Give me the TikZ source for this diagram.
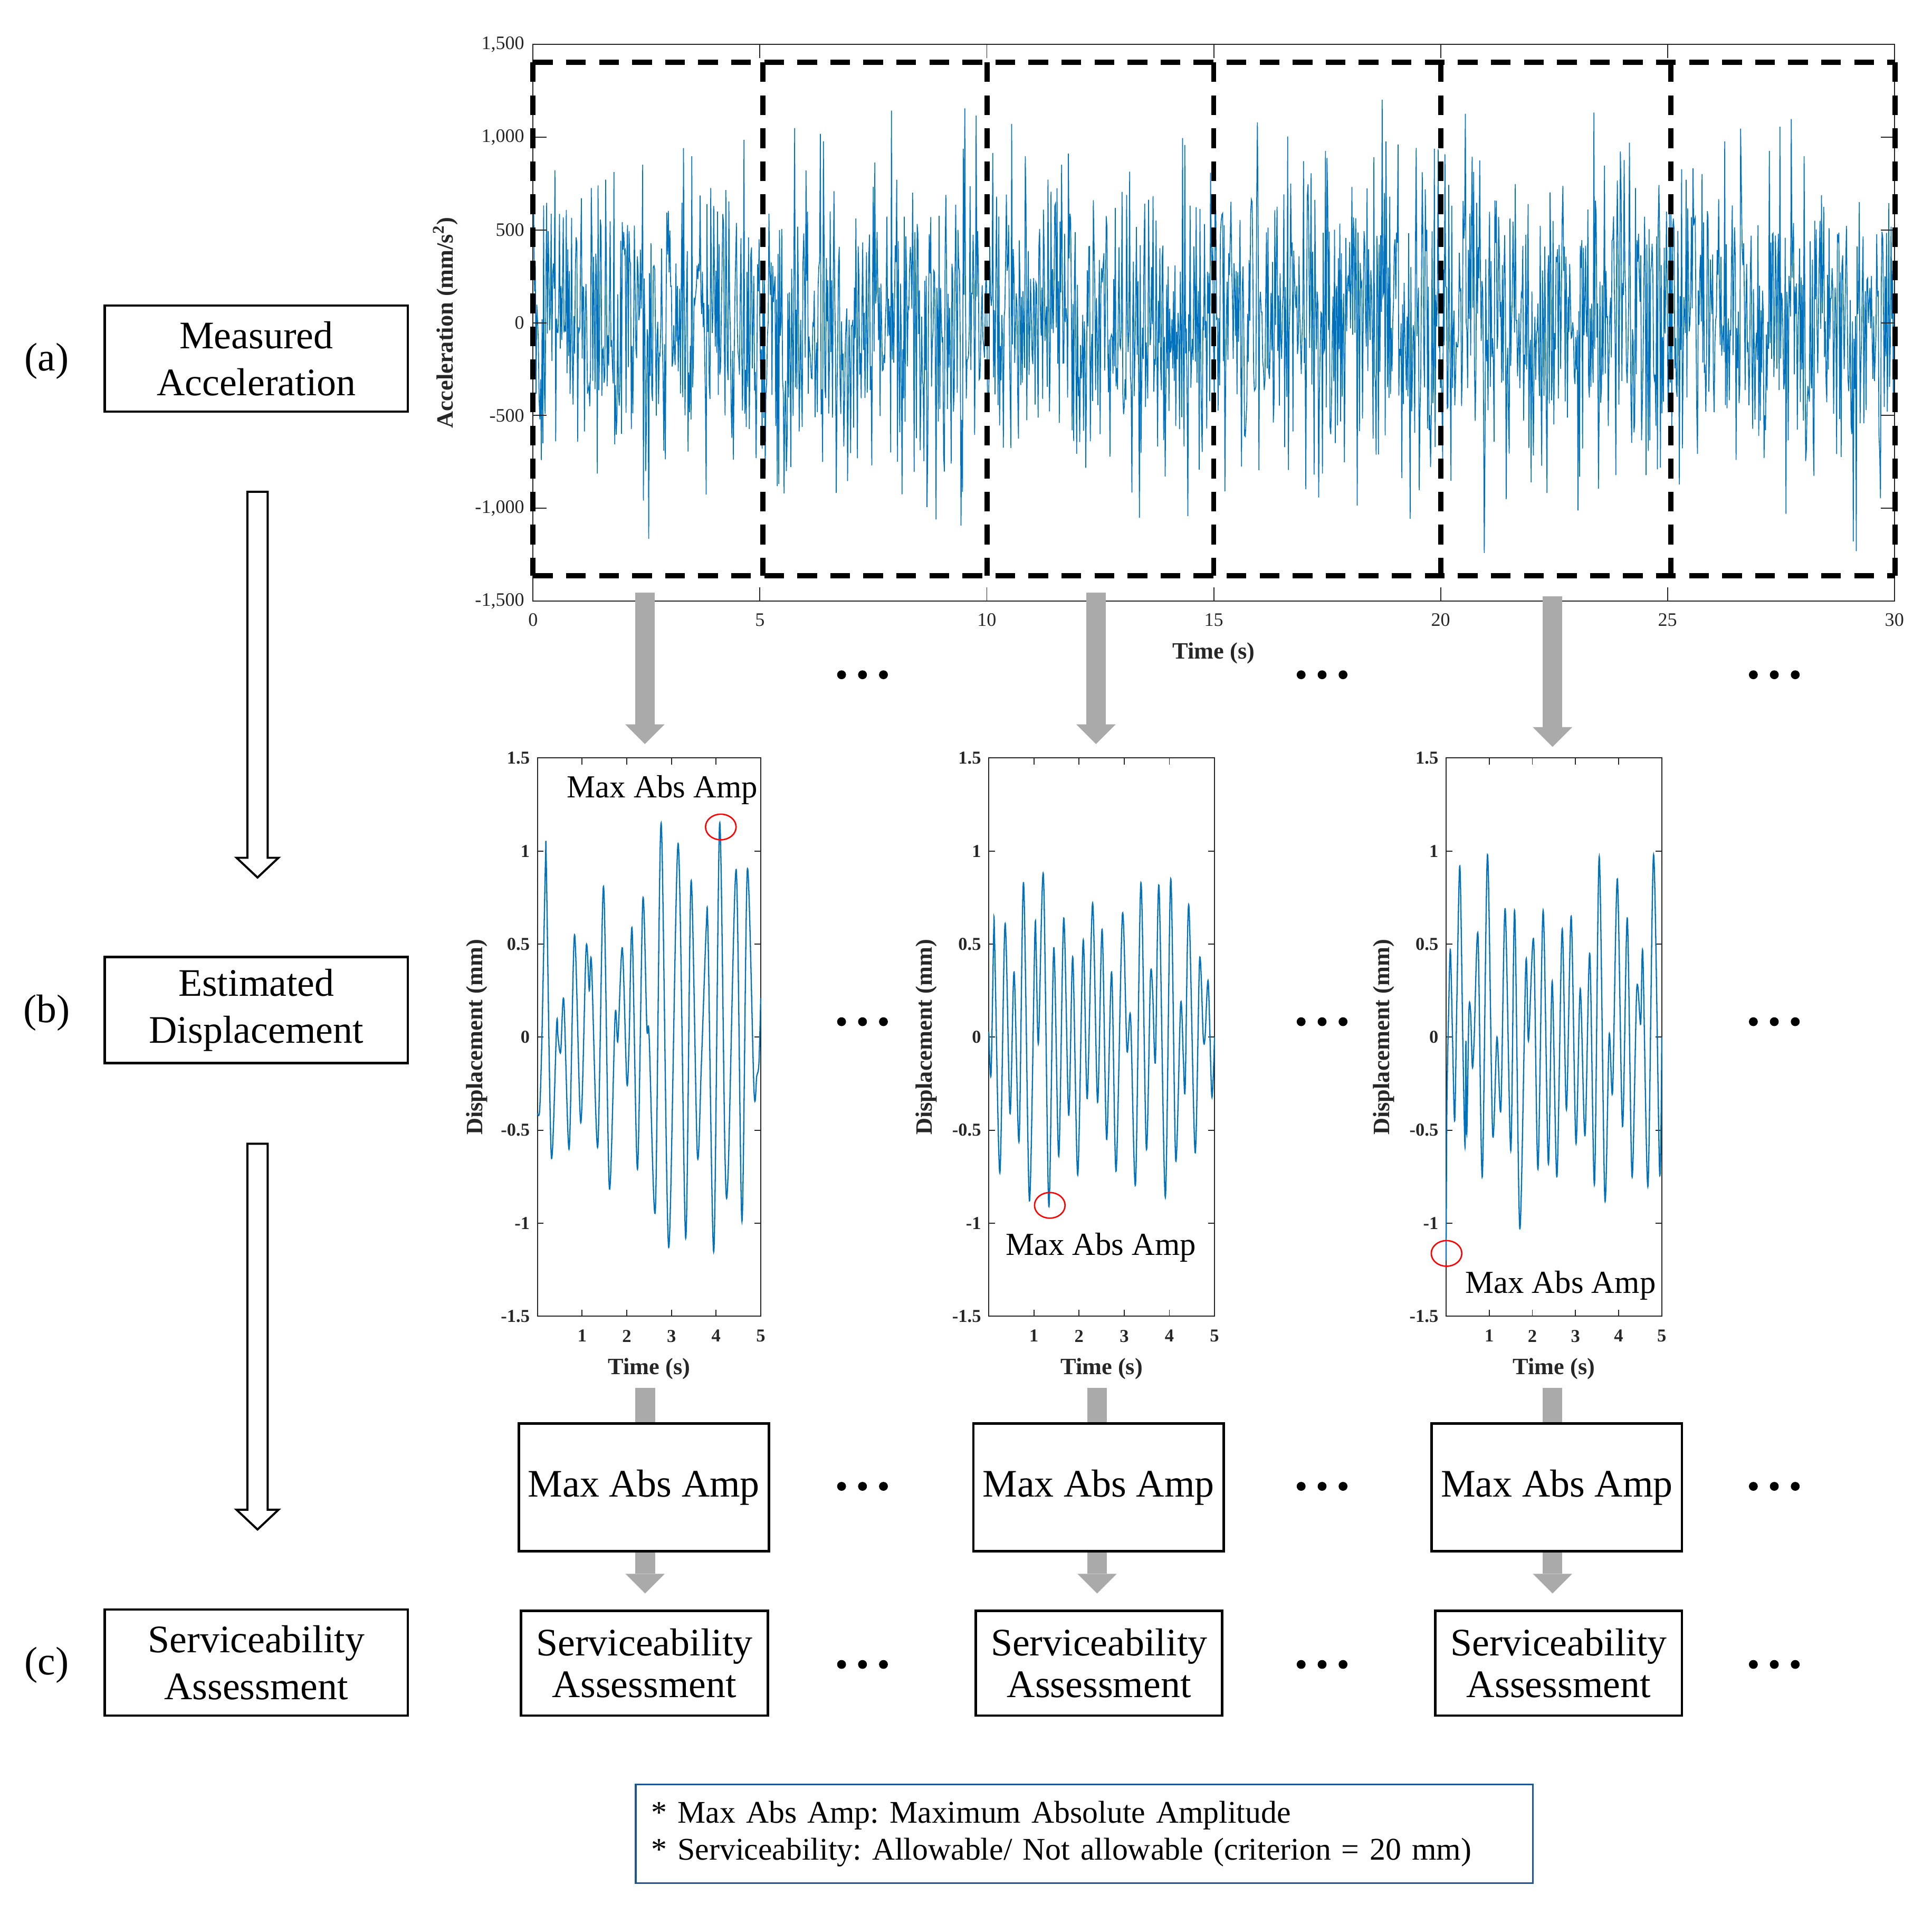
\documentclass[tikz,border=0pt]{standalone}
\usepackage{fontspec}
\setmainfont{Liberation Serif}
\usetikzlibrary{arrows.meta,calc,positioning}
\definecolor{sigblue}{RGB}{0,114,189}
\definecolor{axisgray}{RGB}{38,38,38}
\definecolor{arrowgray}{RGB}{170,170,170}
\definecolor{footblue}{RGB}{30,85,150}
\begin{document}
\frenchspacing
\begin{tikzpicture}[x=0.025cm,y=-0.025cm,
    stage/.style={draw,line width=1.4pt,minimum width=6.15cm,minimum height=2.15cm,inner sep=0pt,align=center,font=\fontsize{22.5}{27}\selectfont},
    result/.style={draw,fill=white,line width=1.5pt,minimum width=5.075cm,minimum height=2.59cm,inner sep=0pt,font=\fontsize{22.5}{27}\selectfont},
    check/.style={draw,line width=1.5pt,minimum width=5cm,minimum height=2.125cm,inner sep=0pt,align=center,font=\fontsize{22.5}{24}\selectfont},
    tag/.style={font=\fontsize{23}{27}\selectfont},
    axisline/.style={draw=axisgray,line width=0.6pt},
    ticklab/.style={text=axisgray,inner sep=0pt,font=\fontsize{11}{13}\selectfont},
    dticklab/.style={text=axisgray,inner sep=0pt,font=\bfseries\fontsize{10.5}{12}\selectfont},
    axlab/.style={text=axisgray,inner sep=0pt,font=\bfseries\fontsize{13.5}{16}\selectfont},
    sigline/.style={draw=sigblue,line width=0.5pt},
    displine/.style={draw=sigblue,line width=0.7pt},
    window/.style={line width=3pt,dash pattern=on 0.4cm off 0.27cm},
    hollow/.style={draw,line width=1.2pt,fill=white},
    grayarrow/.style={draw=arrowgray,line width=0.4cm,-{Triangle[width=0.8cm,length=0.4cm,line width=0pt]}},
    grayshaft/.style={draw=arrowgray,line width=0.4cm},
    maxmark/.style={draw=red,line width=0.8pt},
    maxlab/.style={inner sep=0pt,font=\fontsize{18.5}{22}\selectfont},
    dotfill/.style={fill=black}]
    \useasboundingbox (0,0) rectangle (1568,1553);

    % left column
    \node[tag] (ta) at (38,293) {(a)};
    \node[tag] (tb) at (38,822) {(b)};
    \node[tag] (tc) at (38,1351) {(c)};
    \node[stage] (meas) at (208,291) {Measured\\Acceleration};
    \node[stage] (est) at (208,819.5) {Estimated\\Displacement};
    \node[stage] (serv) at (208,1349) {Serviceability\\Assessment};
    \coordinate (ha1) at (209,399);
    \coordinate (hb1) at (209,712);
    \coordinate (ha2) at (209,928);
    \coordinate (hb2) at (209,1241);
    \foreach \a/\b in {ha1/hb1,ha2/hb2}
    \draw[hollow] ($(\a)+(-8.25,0)$) -- ($(\a)+(8.25,0)$) -- ($(\b)+(8.25,-16)$) -- ($(\b)+(17,-16)$)
        -- (\b) -- ($(\b)+(-17,-16)$) -- ($(\b)+(-8.25,-16)$) -- cycle;

    % measured acceleration
    \begin{scope}[shift={(432.6,261.9)},xscale=36.83,yscale=-0.1505]
        \pgfmathsetseed{7}
        \draw[sigline] plot[domain=0:30,samples=1801] (\x,{360*(rand+rand+rand+rand)});
        \draw[axisline] (0,-1500) rectangle (30,1500);
        \foreach \t in {5,10,...,25} {
            \draw[axisline] (\t,-1500) -- ++(0,73);
            \draw[axisline] (\t,1500) -- ++(0,-73);
        }
        \foreach \v in {-1000,-500,...,1000} {
            \draw[axisline] (0,\v) -- ++(0.3,0);
            \draw[axisline] (30,\v) -- ++(-0.3,0);
        }
        \foreach \t in {0,5,...,30}
        \node[ticklab,anchor=north,yshift=-0.25cm] at (\t,-1500) {\t};
        \foreach \v/\l in {-1500/{-1,500},-1000/{-1,000},-500/-500,0/0,500/500,1000/{1,000},1500/{1,500}}
        \node[ticklab,anchor=east,xshift=-0.17cm] at (0,\v) {\l};
    \end{scope}
    \node[axlab,rotate=90] (accy) at (361.6,262) {Acceleration (mm/s\textsuperscript{2})};
    \node[axlab] (accx) at (985,530) {Time (s)};
    \draw[window] (432.6,50.5) -- (1538,50.5);
    \draw[window] (432.6,467) -- (1538,467);
    \foreach \wx in {432.6,619,801,985,1169.5,1356,1538}
    \draw[window] (\wx,50.5) -- (\wx,467);

    % estimated displacement
    \foreach \px/\pw/\yl/\nm in {436.2/181.2/387/dA,802.5/183.2/752/dB,1173.6/175.1/1123/dC} {
        \pgfmathsetmacro{\sx}{\pw/5}
        \pgfmathsetmacro{\tk}{5/\sx}
        \begin{scope}[shift={(\px,841.5)},xscale=\sx,yscale=-151]
            \draw[axisline] (0,-1.5) rectangle (5,1.5);
            \foreach \t in {1,...,4} {
                \draw[axisline] (\t,-1.5) -- ++(0,0.035);
                \draw[axisline] (\t,1.5) -- ++(0,-0.035);
            }
            \foreach \v in {-1,-0.5,0,0.5,1} {
                \draw[axisline] (0,\v) -- ++(\tk,0);
                \draw[axisline] (5,\v) -- ++(-\tk,0);
            }
            \foreach \t in {1,...,5}
            \node[dticklab,anchor=north,yshift=-0.27cm] at (\t,-1.5) {\t};
            \foreach \v in {-1.5,-1,-0.5,0,0.5,1,1.5}
            \node[dticklab,anchor=east,xshift=-0.15cm] at (0,\v) {\v};
        \end{scope}
        \node[axlab,rotate=90] (\nm-y) at (\yl,841.5) {Displacement (mm)};
        \node[axlab] (\nm-x) at ({\px+\pw/2},1110.7) {Time (s)};
    }
    \begin{scope}[shift={(436.2,841.5)},xscale=36.24,yscale=-151]
        \draw[displine] plot[smooth] coordinates {(0,-0.41) (0.05,-0.39) (0.1,0) (0.18,0.95) (0.2,0.9) (0.31,-0.64)
            (0.43,0.07) (0.46,0) (0.52,-0.08) (0.59,0.2) (0.71,-0.6) (0.83,0.55) (0.97,-0.46) (1.09,0.48)
            (1.16,0.25) (1.21,0.4) (1.35,-0.59) (1.48,0.81) (1.61,-0.81) (1.74,0.12) (1.8,-0.02) (1.9,0.48)
            (2.0,-0.24) (2.05,-0.05) (2.12,0.58) (2.24,-0.71) (2.36,0.74) (2.45,0.05) (2.5,0.01) (2.64,-0.93)
            (2.77,1.15) (2.94,-1.13) (3.15,1.04) (3.32,-1.08) (3.44,0.84) (3.58,-0.63) (3.67,-0.15) (3.78,0.59)
            (3.82,0.55) (3.95,-1.15) (4.08,1.15) (4.2,-0.64) (4.27,-0.73) (4.45,0.9) (4.58,-0.99) (4.7,0.9)
            (4.85,-0.29) (4.91,-0.21) (4.96,-0.14) (5.0,0.21)};
    \end{scope}
    \begin{scope}[shift={(802.5,841.5)},xscale=36.64,yscale=-151]
        \draw[displine] plot[smooth] coordinates {(0,0.03) (0.05,-0.2) (0.11,0.58) (0.13,0.5) (0.245,-0.73)
            (0.36,0.61) (0.47,-0.41) (0.56,0.35) (0.67,-0.56) (0.77,0.83) (0.9,-0.88) (1.02,0.55) (1.05,0.45)
            (1.1,-0.03) (1.21,0.87) (1.33,-0.91) (1.44,0.48) (1.55,-0.64) (1.66,0.64) (1.77,-0.42) (1.86,0.43)
            (1.97,-0.74) (2.09,0.52) (2.18,-0.33) (2.3,0.72) (2.41,-0.35) (2.51,0.58) (2.61,-0.55) (2.72,0.35)
            (2.82,-0.72) (2.96,0.66) (3.06,-0.07) (3.14,0.11) (3.25,-0.79) (3.37,0.83) (3.49,-0.6) (3.58,0.32)
            (3.63,0.24) (3.69,-0.13) (3.77,0.81) (3.91,-0.86) (4.03,0.85) (4.14,-0.66) (4.25,0.18) (4.31,-0.12)
            (4.35,-0.27) (4.43,0.71) (4.57,-0.62) (4.67,0.42) (4.75,0) (4.79,0) (4.86,0.3) (4.94,-0.32) (5.0,0)};
    \end{scope}
    \begin{scope}[shift={(1173.6,841.5)},xscale=35.02,yscale=-151]
        \draw[displine] plot[smooth] coordinates {(0,-1.2) (0.02,-0.35) (0.06,0.14) (0.1,0.47) (0.15,0) (0.2,-0.45)
            (0.25,0.19) (0.32,0.92) (0.39,-0.04) (0.44,-0.59) (0.46,-0.02) (0.48,-0.52) (0.53,0.14) (0.57,0.13)
            (0.61,-0.16) (0.65,-0.02) (0.74,0.55) (0.84,-0.75) (0.96,0.98) (1.08,-0.52) (1.18,0) (1.27,-0.39)
            (1.37,0.69) (1.5,-0.61) (1.59,0.68) (1.71,-1.03) (1.85,0.4) (1.91,-0.02) (2.03,0.52) (2.13,-0.71)
            (2.25,0.68) (2.37,-0.68) (2.46,0.3) (2.57,-0.75) (2.69,0.58) (2.79,-0.39) (2.9,0.65) (3.01,-0.57)
            (3.11,0.26) (3.22,-0.53) (3.33,0.45) (3.44,-0.79) (3.55,0.97) (3.68,-0.87) (3.78,0.01) (3.86,-0.29)
            (3.97,0.85) (4.09,-0.48) (4.2,0.64) (4.31,-0.75) (4.42,0.26) (4.51,0.07) (4.56,0.45) (4.68,-0.8)
            (4.81,0.98) (4.95,-0.73) (5.0,0)};
    \end{scope}
    \draw[maxmark] (585,671) ellipse [x radius=0.31cm,y radius=0.26cm];
    \draw[maxmark] (852,978) ellipse [x radius=0.31cm,y radius=0.26cm];
    \draw[maxmark] (1174,1017) ellipse [x radius=0.31cm,y radius=0.26cm];
    \node[maxlab] (dA-m) at (537.5,641) {Max Abs Amp};
    \node[maxlab] (dB-m) at (893.5,1012) {Max Abs Amp};
    \node[maxlab] (dC-m) at (1266.5,1043) {Max Abs Amp};

    % arrows from the windows
    \coordinate (ga1) at (523.4,481);
    \coordinate (gb1) at (523.4,603.7);
    \coordinate (ga2) at (889.5,481);
    \coordinate (gb2) at (889.5,603.7);
    \coordinate (ga3) at (1260,484);
    \coordinate (gb3) at (1260,606);
    \foreach \i in {1,2,3}
    \draw[grayarrow] (ga\i) -- (gb\i);

    % max and serviceability
    \node[result] (mx1) at (522.5,1207) {Max Abs Amp};
    \node[result] (mx2) at (891.5,1207) {Max Abs Amp};
    \node[result] (mx3) at (1263.5,1207) {Max Abs Amp};
    \node[check] (sv1) at (523,1349.5) {Serviceability\\Assessment};
    \node[check] (sv2) at (892,1349.5) {Serviceability\\Assessment};
    \node[check] (sv3) at (1265,1349.5) {Serviceability\\Assessment};
    \coordinate (gs1) at (523.6,1126);
    \coordinate (gs2) at (890.4,1126);
    \coordinate (gs3) at (1260,1126);
    \foreach \i in {1,2,3} {
        \draw[grayshaft] (gs\i) -- (gs\i |- mx\i.north);
        \coordinate (gt\i) at ($(gs\i |- sv\i.north)+(0,-13)$);
        \draw[grayarrow] (gs\i |- mx\i.south) -- (gt\i);
    }

    % continuation dots
    \foreach \cx in {700,1073,1440}
    \foreach \cy in {547.5,829,1206,1350.5}
    \foreach \dx in {-17,0,17}
    \fill[dotfill] (\cx+\dx,\cy) circle[radius=0.09cm];

    \node[draw=footblue,line width=1pt,minimum width=18.2cm,minimum height=2cm,text width=17.56cm,inner xsep=0.32cm,
        align=left,font=\fontsize{18.2}{21.3}\selectfont] (note) at (880,1488)
        {* Max Abs Amp: Maximum Absolute Amplitude\\{*} Serviceability: Allowable/ Not allowable (criterion = 20 mm)};
\end{tikzpicture}
\end{document}
